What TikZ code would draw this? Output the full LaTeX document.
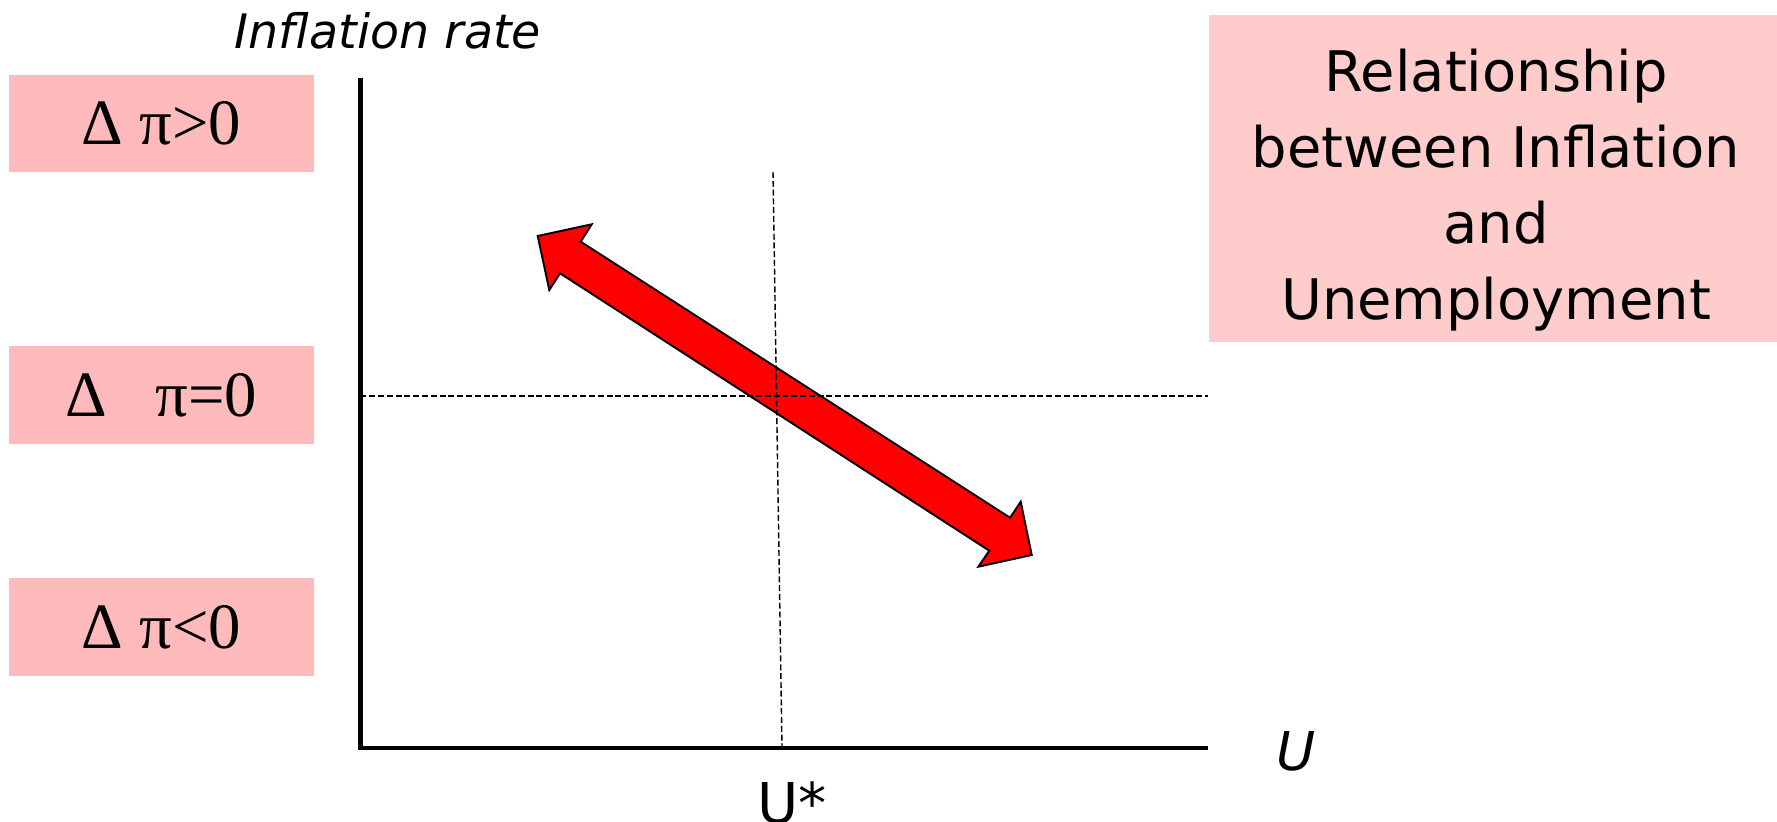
\documentclass[tikz,border=0pt]{standalone}
\usepackage{fontspec}
\setmainfont{Liberation Serif}
\newfontfamily\verd{DejaVu Sans}
\definecolor{boxpink}{HTML}{FFBBBB}
\definecolor{titlepink}{HTML}{FFCCCC}
\begin{document}
\begin{tikzpicture}[x=0.01cm,y=-0.01cm,
  leftbox/.style={fill=boxpink, draw=none, minimum width=3.05cm, minimum height=0.97cm, inner sep=0pt, font=\fontsize{18.4}{22}\selectfont},
  titlebox/.style={fill=titlepink, draw=none, minimum width=5.68cm, minimum height=3.27cm, inner sep=0pt},
  titletext/.style={align=center, font=\verd\fontsize{15.9}{21.6}\selectfont, inner sep=0pt},
  axisline/.style={line width=1.28pt},
  guide/.style={line width=0.4pt, dash pattern=on 1.7pt off 0.8pt},
  bigarrow/.style={fill=red, draw=black, line width=0.55pt, line join=miter},
  axlabel/.style={font=\verd\itshape\fontsize{13.5}{16}\selectfont, inner sep=0pt},
]
\useasboundingbox (0,0) rectangle (1777,821);

% left boxes
\node[leftbox] (dpos) at (161.5,123.5) {Δ π>0};
\node[leftbox] (dzero) at (161.5,395) {Δ\hspace{0.75em}π=0};
\node[leftbox] (dneg) at (161.5,627) {Δ π<0};

% title box
\node[titlebox] (titlebg) at (1493,178.5) {};
\node[titletext] (title) at (1496,190) {Relationship\\between Inflation\\and\\Unemployment};

% coordinates
\coordinate (origin) at (360.5,748);
\coordinate (ytop) at (360.5,78);
\coordinate (xend) at (1208,748);
\coordinate (ustarTop) at (773,172);
\coordinate (ustarBot) at (782,748);
\coordinate (hL) at (360.5,396);
\coordinate (hR) at (1208,396);

% big double arrow
\draw[bigarrow] (537.7,236) -- (591.7,224.3) -- (580.7,241.7) -- (1010,517.7)
  -- (1020.7,501.7) -- (1031.7,555) -- (978.3,566.7) -- (989.3,550.7)
  -- (560,273.3) -- (549.3,290) -- cycle;

% guides
\draw[guide] (ustarTop) -- (ustarBot);
\draw[guide] (hL) -- (hR);

% axes
\draw[axisline] (ytop) -- (origin) -- (xend);

% labels
\node[axlabel, anchor=base] (ylab) at (388,48) {Inflation rate};
\node[font=\verd\itshape\fontsize{15.2}{18}\selectfont, anchor=base, inner sep=0pt] (xlab) at (1296,770) {U};
\node[font=\verd\fontsize{16}{19}\selectfont, anchor=base, inner sep=0pt] (ustar) at (792,823) {U*};
\end{tikzpicture}
\end{document}
